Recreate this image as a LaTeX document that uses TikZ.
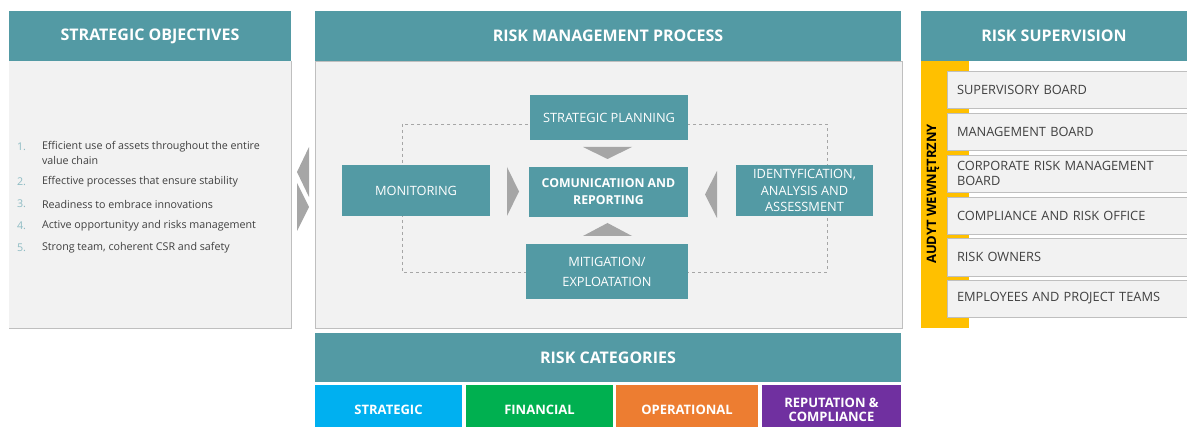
\documentclass[tikz,border=0pt]{standalone}
\usepackage{fontspec}
\setmainfont{Open Sans}
\definecolor{teal1}{HTML}{539AA4}
\definecolor{bodyg}{HTML}{F2F2F2}
\definecolor{bordg}{HTML}{BFBFBF}
\definecolor{arrg}{HTML}{A6A6A6}
\definecolor{yel}{HTML}{FFC000}
\definecolor{numc}{HTML}{8DBBC3}
\definecolor{txtc}{HTML}{404040}
\definecolor{cblue}{HTML}{00B0F0}
\definecolor{cgreen}{HTML}{00B050}
\definecolor{corange}{HTML}{ED7D31}
\definecolor{cpurple}{HTML}{7030A0}
\begin{document}
\begin{tikzpicture}[x=1pt,y=-1pt,
  every node/.style={inner sep=0pt,outer sep=0pt},
  hdr/.style={fill=teal1,text=white,font=\bfseries\fontsize{16}{18}\selectfont,anchor=north west},
  panel/.style={fill=bodyg,anchor=north west},
  ibox/.style={fill=teal1,text=white,font=\fontsize{12.8}{16}\selectfont,align=center,anchor=north west},
  litem/.style={anchor=west,text=txtc,font=\fontsize{10.7}{12}\selectfont},
  lnum/.style={anchor=west,text=numc,font=\fontsize{10.7}{12}\selectfont},
  ritem/.style={fill=bodyg,draw=bordg,line width=0.6pt,anchor=north west,minimum width=240,text width=230,align=left,text=txtc,font=\fontsize{12.8}{15}\selectfont,inner xsep=10pt},
  cat/.style={anchor=north west,minimum height=50,text=white,font=\bfseries\fontsize{13}{14}\selectfont,align=center},
  tri/.style={fill=arrg},
  dashline/.style={draw=arrg,dashed,line width=0.5pt}
]
\useasboundingbox (0,0) rectangle (1187,427);
% ---------- left panel ----------
\node[hdr,minimum width=282,minimum height=50] (soh) at (9,11) {STRATEGIC OBJECTIVES};
\node[panel,minimum width=282,minimum height=267] (sob) at (9,61) {};
\draw[bordg,line width=0.8pt] (sob.north east) -- (sob.south east) -- (sob.south west);
\node[lnum] (n1) at (17,147) {1.};
\node[litem] (t1) at (42,147) {Efficient use of assets throughout the entire};
\node[litem] (t1b) at (42,160) {value chain};
\node[lnum] (n2) at (17,182) {2.};
\node[litem] (t2) at (42,182) {Effective processes that ensure stability};
\node[lnum] (n3) at (17,204) {3.};
\node[litem] (t3) at (42,204) {Readiness to embrace innovations};
\node[lnum] (n4) at (17,226) {4.};
\node[litem] (t4) at (42,226) {Active opportunityy and risks management};
\node[lnum] (n5) at (17,248) {5.};
\node[litem] (t5) at (42,248) {Strong team, coherent CSR and safety};
% chevrons between panels
\fill[tri] (309,147) -- (297,172) -- (309,197) -- cycle;
\fill[tri] (297,183) -- (309,207) -- (297,231) -- cycle;
% ---------- middle panel ----------
\node[hdr,minimum width=586,minimum height=50] (rmh) at (315,11) {RISK MANAGEMENT PROCESS};
\node[panel,draw=bordg,line width=0.8pt,minimum width=587,minimum height=267] (rmb) at (315,61) {};
\coordinate (d1) at (402,124);
\coordinate (d2) at (827,272);
\draw[dashline] (d1) rectangle (d2);
\node[ibox,minimum width=158,minimum height=45] (sp) at (530,95) {STRATEGIC PLANNING};
\node[ibox,minimum width=148,minimum height=51] (mon) at (342,165) {MONITORING};
\node[ibox,minimum width=159,minimum height=50,font=\bfseries\fontsize{12.3}{17}\selectfont] (com) at (529,167) {COMUNICATIION AND\\REPORTING};
\node[ibox,minimum width=162,minimum height=55,font=\fontsize{12.8}{20}\selectfont] (mit) at (526,244) {MITIGATION/\\EXPLOATATION};
\node[ibox,minimum width=137,minimum height=51,font=\fontsize{12.8}{16.5}\selectfont] (ide) at (736,165) {IDENTYFICATION,\\ANALYSIS AND\\ASSESSMENT};
% gray arrows
\fill[tri] (507,167) -- (519,191.5) -- (507,216) -- cycle;
\fill[tri] (717,171) -- (705,194.5) -- (717,218) -- cycle;
\fill[tri] (583,147) -- (632,147) -- (607.5,159) -- cycle;
\fill[tri] (583,236) -- (632,236) -- (607.5,223) -- cycle;
% ---------- right panel ----------
\node[hdr,minimum width=266,minimum height=50] (rsh) at (921,11) {RISK SUPERVISION};
\node[fill=yel,anchor=north west,minimum width=48,minimum height=267] (yb) at (921,61) {};
\node[rotate=90,font=\bfseries\fontsize{13}{15}\selectfont,text=black] (aud) at (933,194) {AUDYT WEWNĘTRZNY};
\node[ritem,minimum height=37] (r1) at (947,71) {SUPERVISORY BOARD};
\node[ritem,minimum height=37] (r2) at (947,113) {MANAGEMENT BOARD};
\node[ritem,minimum height=37] (r3) at (947,155) {CORPORATE RISK MANAGEMENT\\BOARD};
\node[ritem,minimum height=37] (r4) at (947,197) {COMPLIANCE AND RISK OFFICE};
\node[ritem,minimum height=38] (r5) at (947,238) {RISK OWNERS};
\node[ritem,minimum height=37] (r6) at (947,280) {EMPLOYEES AND PROJECT TEAMS};
% ---------- bottom ----------
\node[hdr,minimum width=586,minimum height=49] (rch) at (315,333) {RISK CATEGORIES};
\node[cat,fill=cblue,minimum width=147] (c1) at (315,385) {STRATEGIC};
\node[cat,fill=cgreen,minimum width=147] (c2) at (466,385) {FINANCIAL};
\node[cat,fill=corange,minimum width=142] (c3) at (616,385) {OPERATIONAL};
\node[cat,fill=cpurple,minimum width=139] (c4) at (762,385) {REPUTATION \&\\COMPLIANCE};
\end{tikzpicture}
\end{document}
